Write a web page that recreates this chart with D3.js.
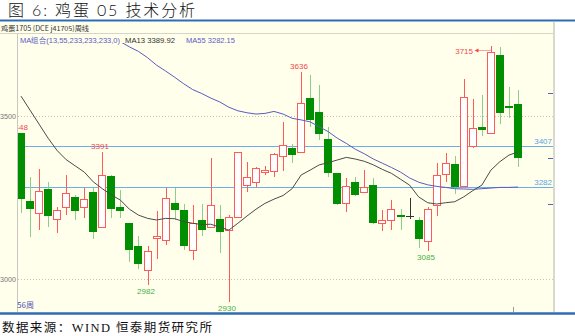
<!DOCTYPE html>
<html>
<head>
<meta charset="utf-8">
<script src="https://cdn.jsdelivr.net/npm/d3@7/dist/d3.min.js"></script>
<style>
  html, body { margin: 0; padding: 0; background: #fff; }
  svg { display: block; }
</style>
</head>
<body>
<svg id="chart" width="575" height="336"></svg>
<script>
// Weekly candles of egg futures j1705 (DCE), oldest to newest
const opens  = [3448,3240,3202,3275,3183,3220,3252,3220,3268,3158,3316,3222,3171,3101,3030,3125,3120,3232,3212,3087,
                3181,3160,3184,3150,3193,3288,3298,3329,3331,3378,3403,3391,3554,3513,3429,3324,3234,3298,3268,3288,
                3171,3179,3195,3194,3181,3117,3227,3324,3353,3283,3408,3467,3449,3687,3531,3537];
const highs  = [3448,3312,3337,3298,3220,3319,3258,3280,3283,3391,3318,3273,3173,3132,3100,3210,3278,3278,3230,3227,
                3230,3370,3227,3195,3391,3360,3345,3347,3385,3483,3413,3636,3626,3595,3467,3326,3309,3314,3334,3309,
                3212,3242,3214,3250,3189,3222,3355,3388,3377,3613,3551,3564,3715,3712,3588,3580];
const lows   = [3202,3130,3150,3160,3140,3196,3181,3187,3122,3155,3186,3187,3053,3030,2982,3060,3104,3181,3089,3058,
                3132,3160,3079,2930,3190,3268,3283,3319,3312,3331,3355,3391,3467,3426,3312,3228,3207,3255,3264,3169,
                3148,3150,3150,3183,3094,3085,3193,3298,3261,3283,3401,3439,3449,3475,3493,3343];
const closes = [3247,3215,3270,3191,3212,3263,3210,3244,3145,3319,3215,3210,3087,3046,3087,3132,3250,3209,3101,3171,
                3150,3227,3145,3189,3391,3312,3340,3334,3383,3411,3380,3541,3488,3445,3324,3230,3285,3258,3283,3171,
                3181,3214,3193,3194,3122,3214,3319,3357,3281,3557,3462,3459,3697,3510,3524,3370];

// Moving averages (13 and 55 weeks); MA55 runs above the visible range at first
const ma13 = [3561,3518,3475,3432,3394,3366,3347,3328,3298,3277,3258,3242,3214,3196,3186,3181,3186,3185,3176,3171,
              3167,3168,3159,3150,3171,3193,3214,3232,3245,3256,3277,3319,3334,3350,3357,3365,3373,3368,3361,3350,
              3336,3324,3306,3288,3252,3234,3230,3234,3237,3252,3271,3288,3334,3360,3380,3389.92];
const ma55 = [null,null,null,null,null,null,null,null,null,null,null,3728,3712,3698,3679,3656,3638,3619,3599,3581,
              3569,3555,3543,3527,3516,3510,3506,3508,3514,3506,3493,3488,3482,3467,3452,3432,3416,3398,3384,3368,
              3355,3342,3328,3310,3297,3289,3284,3281,3277,3276,3275,3277,3279,3281,3281,3282.15];

const yTicks = [3000, 3500];
const refLevels = [3407, 3282];
const peakIdx = [0, 9, 31, 52];
const troughIdx = [14, 23, 45];
const weeks = opens.map((_, i) => i);

const W = 575, H = 336;
const plot = { left: 17, right: 553, top: 43, bottom: 312 };

const svg = d3.select("#chart");
const x = d3.scalePoint().domain(weeks).range([21, 518]);
const y = d3.scaleLinear().domain([3000, 3500]).range([279, 116]);

const RED = "#ff5a5a", RED_TXT = "#f24848", GREEN = "#008f00", GREEN_WICK = "#8ad08a", GREEN_TXT = "#45b045";
const MA13_C = "#4a4a4a", MA55_C = "#5a5ac4", REF_C = "#6aaeee";
const SANS = "'Liberation Sans', Arial, sans-serif";
const CJK = "'Noto Sans CJK SC', sans-serif";

// Title and rule under it
svg.append("text").attr("x", 8).attr("y", 16)
  .attr("font-family", "Lato, 'Noto Sans CJK SC', sans-serif")
  .attr("font-size", 16).attr("font-weight", 300).attr("fill", "#111")
  .attr("textLength", 187).attr("lengthAdjust", "spacing")
  .text("图 6: 鸡蛋 05 技术分析");
svg.append("line").attr("x1", 0).attr("x2", W).attr("y1", 20.5).attr("y2", 20.5)
  .attr("stroke", "#2f6db3").attr("stroke-width", 2);

// Chart panel
svg.append("rect").attr("x", 0).attr("y", 22).attr("width", plot.right).attr("height", plot.bottom - 22)
  .attr("fill", "#ffffec");
svg.append("line").attr("x1", plot.right + 1).attr("x2", plot.right + 1).attr("y1", 22).attr("y2", plot.bottom)
  .attr("stroke", "#d9d9cc").attr("stroke-width", 2);
svg.append("line").attr("x1", 0).attr("x2", plot.right).attr("y1", 33.5).attr("y2", 33.5)
  .attr("stroke", "#d4d4c8");
svg.append("line").attr("x1", plot.left + 0.5).attr("x2", plot.left + 0.5).attr("y1", 34).attr("y2", plot.bottom)
  .attr("stroke", "#c8c8c0");

// Header and legend
svg.append("text").attr("x", 1).attr("y", 31).attr("font-family", CJK).attr("font-size", 7).attr("fill", "#333")
  .attr("textLength", 88).attr("lengthAdjust", "spacingAndGlyphs")
  .text("鸡蛋1705 (DCE j41705)周线");
const legend = svg.append("g").attr("font-family", SANS).attr("font-size", 8);
legend.append("text").attr("x", 20).attr("y", 42.5).attr("fill", MA55_C)
  .attr("textLength", 100).attr("lengthAdjust", "spacingAndGlyphs").text("MA组合(13,55,233,233,233,0)");
legend.append("text").attr("x", 125).attr("y", 42.5).attr("fill", "#333")
  .attr("textLength", 50).attr("lengthAdjust", "spacingAndGlyphs").text("MA13 " + ma13[ma13.length - 1].toFixed(2));
legend.append("text").attr("x", 186).attr("y", 42.5).attr("fill", MA55_C)
  .attr("textLength", 49).attr("lengthAdjust", "spacingAndGlyphs").text("MA55 " + ma55[ma55.length - 1].toFixed(2));

// Y axis labels and dotted grid
const yAxis = d3.axisLeft(y).tickValues(yTicks).tickSize(0).tickPadding(0).tickFormat(d3.format("d"));
const ya = svg.append("g").attr("transform", `translate(16,0)`).call(yAxis);
ya.select(".domain").remove();
ya.selectAll("text").attr("font-family", SANS).attr("font-size", 7.2).attr("fill", "#777");
svg.append("g").selectAll("line").data(yTicks).join("line")
  .attr("x1", plot.left + 1).attr("x2", plot.right)
  .attr("y1", d => Math.round(y(d)) + 0.5).attr("y2", d => Math.round(y(d)) + 0.5)
  .attr("stroke", "#c4c4bc").attr("stroke-dasharray", "1,2");

// Clip for everything inside the plot
svg.append("clipPath").attr("id", "plotClip").append("rect")
  .attr("x", plot.left + 1).attr("y", plot.top).attr("width", plot.right - plot.left - 1).attr("height", plot.bottom - plot.top);
const g = svg.append("g").attr("clip-path", "url(#plotClip)");

// Reference levels
g.selectAll("line.ref").data(refLevels).join("line").attr("class", "ref")
  .attr("x1", plot.left).attr("x2", plot.right)
  .attr("y1", d => Math.round(y(d)) + 0.5).attr("y2", d => Math.round(y(d)) + 0.5)
  .attr("stroke", REF_C).attr("stroke-width", 1.2);
svg.selectAll("text.ref").data(refLevels).join("text").attr("class", "ref")
  .attr("x", plot.right - 1).attr("y", d => y(d) - 2.5).attr("text-anchor", "end")
  .attr("font-family", SANS).attr("font-size", 8).attr("fill", "#5a9fe4").text(d => d);

// Candles
const cg = g.append("g").attr("shape-rendering", "crispEdges");
weeks.forEach((w, i) => {
  const cx = Math.round(x(w)) + 0.5;
  const o = opens[i], c = closes[i];
  const up = c > o, down = c < o;
  cg.append("line").attr("x1", cx).attr("x2", cx)
    .attr("y1", y(highs[i])).attr("y2", y(lows[i]))
    .attr("stroke", up ? RED : down ? GREEN_WICK : "#333");
  const top = y(Math.max(o, c)), bot = y(Math.min(o, c));
  if (up) {
    cg.append("rect").attr("x", cx - 4).attr("y", Math.round(top) + 0.5)
      .attr("width", 7).attr("height", Math.max(1, Math.round(bot - top)))
      .attr("fill", "#fff").attr("stroke", RED);
  } else if (down) {
    cg.append("rect").attr("x", cx - 4.5).attr("y", Math.round(top))
      .attr("width", 8).attr("height", Math.max(1.5, Math.round(bot - top)))
      .attr("fill", GREEN);
  } else {
    cg.append("line").attr("x1", cx - 4.5).attr("x2", cx + 3.5)
      .attr("y1", Math.round(top) + 0.5).attr("y2", Math.round(top) + 0.5).attr("stroke", "#333");
  }
});

// Moving average lines
const line = d3.line().defined(d => d.v != null).x(d => x(d.w)).y(d => y(d.v));
g.append("path").datum(weeks.map((w, i) => ({ w, v: ma55[i] })))
  .attr("d", line).attr("fill", "none").attr("stroke", MA55_C).attr("stroke-width", 1);
g.append("path").datum(weeks.map((w, i) => ({ w, v: ma13[i] })))
  .attr("d", line).attr("fill", "none").attr("stroke", MA13_C).attr("stroke-width", 1);

// High / low annotations (labels sit slightly left of the candle)
const topIdx = highs.indexOf(d3.max(highs));
peakIdx.forEach(i => {
  const cx = Math.round(x(weeks[i])) + 0.5, hy = y(highs[i]);
  if (i === topIdx) {
    const ly = Math.round(hy) + 4.5;
    g.append("line").attr("x1", cx - 14).attr("x2", cx - 1).attr("y1", ly).attr("y2", ly)
      .attr("stroke", RED_TXT).attr("stroke-dasharray", "1,1");
    g.append("path").attr("d", `M${cx - 17},${ly} l4,-2 v4 z`).attr("fill", RED_TXT);
    g.append("text").attr("x", cx - 18.5).attr("y", hy + 8).attr("text-anchor", "end")
      .attr("font-family", SANS).attr("font-size", 8).attr("fill", RED_TXT).text(highs[i]);
  } else {
    g.append("text").attr("x", cx - 2.5).attr("y", hy - 3).attr("text-anchor", "middle")
      .attr("font-family", SANS).attr("font-size", 8).attr("fill", RED_TXT).text(highs[i]);
  }
});
troughIdx.forEach(i => {
  const cx = Math.round(x(weeks[i])) + 0.5;
  g.append("text").attr("x", cx - 2.5).attr("y", y(lows[i]) + 9).attr("text-anchor", "middle")
    .attr("font-family", SANS).attr("font-size", 8).attr("fill", GREEN_TXT).text(lows[i]);
});

// Right-edge markers and bottom tick
svg.append("g").selectAll("line").data([93, 158, 204]).join("line")
  .attr("x1", 548).attr("x2", plot.right).attr("y1", d => d + 0.5).attr("y2", d => d + 0.5)
  .attr("stroke", "#6060b8");
svg.append("line").attr("x1", 513.5).attr("x2", 513.5).attr("y1", 307).attr("y2", plot.bottom)
  .attr("stroke", "#999");

// Period count
svg.append("text").attr("x", 17).attr("y", 307.5).attr("font-family", CJK).attr("font-size", 8)
  .attr("fill", "#5252b4").text(weeks.length + "周");

// Bottom rule and source note
svg.append("line").attr("x1", 0).attr("x2", W).attr("y1", 313.5).attr("y2", 313.5)
  .attr("stroke", "#2f6db3").attr("stroke-width", 2.5);
const src = svg.append("text").attr("x", 2).attr("y", 332).attr("font-size", 12.5).attr("fill", "#111")
  .attr("font-family", CJK).attr("textLength", 210).attr("lengthAdjust", "spacing");
src.append("tspan").text("数据来源：");
src.append("tspan").attr("font-family", "'Liberation Serif', serif").text("WIND ");
src.append("tspan").text("恒泰期货研究所");
</script>
</body>
</html>
